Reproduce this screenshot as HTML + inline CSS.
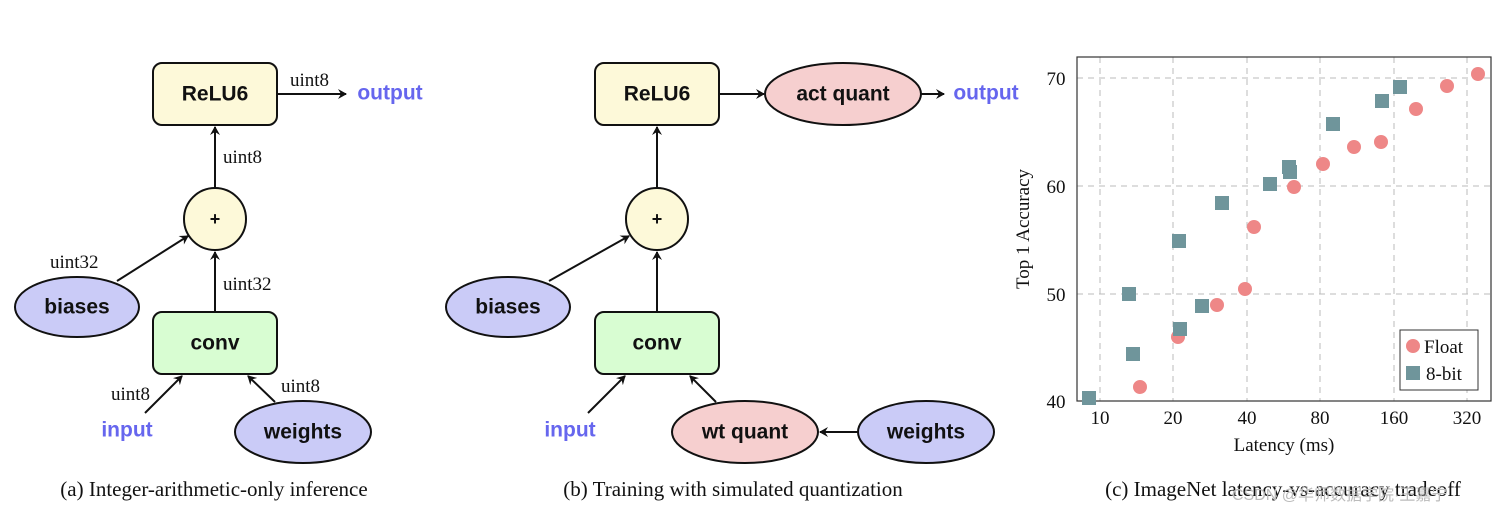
<!DOCTYPE html>
<html><head><meta charset="utf-8"><style>
body{margin:0;background:#fff}
svg{display:block}
.n{font-family:"Liberation Sans",sans-serif;font-weight:bold;font-size:21px;text-anchor:middle;dominant-baseline:central;fill:#111}
.b{font-family:"Liberation Sans",sans-serif;font-weight:bold;font-size:21px;fill:#6666ee;text-anchor:middle;dominant-baseline:central}
.l{font-family:"Liberation Serif",serif;font-size:19px;fill:#111}
.c{font-family:"Liberation Serif",serif;font-size:21px;fill:#111;text-anchor:middle}
.t{font-family:"Liberation Serif",serif;font-size:19px;fill:#111;text-anchor:middle}
line.a{stroke:#111;stroke-width:2;marker-end:url(#ar)}
.box{stroke:#111;stroke-width:2}
</style></head><body>
<svg width="1500" height="515" viewBox="0 0 1500 515" xmlns="http://www.w3.org/2000/svg">
<defs><marker id="ar" markerWidth="10" markerHeight="10" refX="8" refY="5" orient="auto" markerUnits="userSpaceOnUse"><path d="M0,0 L9,5 L0,10 L3,5 Z" fill="#111"/></marker></defs>

<!-- (a) -->
<rect class="box" x="153" y="63" width="124" height="62" rx="9" fill="#fdf9d9"/>
<text class="n" x="215" y="94">ReLU6</text>
<circle class="box" cx="215" cy="219" r="31" fill="#fdf9d9"/>
<text class="n" x="215" y="219" style="font-size:18px">+</text>
<ellipse class="box" cx="77" cy="307" rx="62" ry="30" fill="#cacbf7"/>
<text class="n" x="77" y="307">biases</text>
<rect class="box" x="153" y="312" width="124" height="62" rx="9" fill="#d8fdd2"/>
<text class="n" x="215" y="343">conv</text>
<ellipse class="box" cx="303" cy="432" rx="68" ry="31" fill="#cacbf7"/>
<text class="n" x="303" y="432">weights</text>
<text class="b" x="127" y="430">input</text>
<text class="b" x="390" y="93">output</text>
<line class="a" x1="277" y1="94" x2="346" y2="94"/>
<line class="a" x1="215" y1="188" x2="215" y2="127"/>
<line class="a" x1="215" y1="312" x2="215" y2="252"/>
<line class="a" x1="117" y1="281" x2="188" y2="236"/>
<line class="a" x1="145" y1="413" x2="182" y2="376"/>
<line class="a" x1="275" y1="402" x2="248" y2="376"/>
<text class="l" x="290" y="86">uint8</text>
<text class="l" x="223" y="163">uint8</text>
<text class="l" x="50" y="268">uint32</text>
<text class="l" x="223" y="290">uint32</text>
<text class="l" x="111" y="400">uint8</text>
<text class="l" x="281" y="392">uint8</text>
<text class="c" x="214" y="496">(a) Integer-arithmetic-only inference</text>

<!-- (b) -->
<rect class="box" x="595" y="63" width="124" height="62" rx="9" fill="#fdf9d9"/>
<text class="n" x="657" y="94">ReLU6</text>
<ellipse class="box" cx="843" cy="94" rx="78" ry="31" fill="#f6cfcf"/>
<text class="n" x="843" y="94">act quant</text>
<text class="b" x="986" y="93">output</text>
<circle class="box" cx="657" cy="219" r="31" fill="#fdf9d9"/>
<text class="n" x="657" y="219" style="font-size:18px">+</text>
<ellipse class="box" cx="508" cy="307" rx="62" ry="30" fill="#cacbf7"/>
<text class="n" x="508" y="307">biases</text>
<rect class="box" x="595" y="312" width="124" height="62" rx="9" fill="#d8fdd2"/>
<text class="n" x="657" y="343">conv</text>
<ellipse class="box" cx="745" cy="432" rx="73" ry="31" fill="#f6cfcf"/>
<text class="n" x="745" y="432">wt quant</text>
<ellipse class="box" cx="926" cy="432" rx="68" ry="31" fill="#cacbf7"/>
<text class="n" x="926" y="432">weights</text>
<text class="b" x="570" y="430">input</text>
<line class="a" x1="719" y1="94" x2="764" y2="94"/>
<line class="a" x1="921" y1="94" x2="944" y2="94"/>
<line class="a" x1="657" y1="188" x2="657" y2="127"/>
<line class="a" x1="657" y1="312" x2="657" y2="252"/>
<line class="a" x1="549" y1="281" x2="629" y2="236"/>
<line class="a" x1="588" y1="413" x2="625" y2="376"/>
<line class="a" x1="716" y1="402" x2="690" y2="376"/>
<line class="a" x1="858" y1="432" x2="820" y2="432"/>
<text class="c" x="733" y="496">(b) Training with simulated quantization</text>

<!-- (c) chart -->
<g stroke="#bbb" stroke-width="1" stroke-dasharray="6,5">
<line x1="1100" y1="57" x2="1100" y2="401"/><line x1="1173" y1="57" x2="1173" y2="401"/>
<line x1="1247" y1="57" x2="1247" y2="401"/><line x1="1320" y1="57" x2="1320" y2="401"/>
<line x1="1394" y1="57" x2="1394" y2="401"/><line x1="1467" y1="57" x2="1467" y2="401"/>
<line x1="1077" y1="78" x2="1491" y2="78"/><line x1="1077" y1="186" x2="1491" y2="186"/>
<line x1="1077" y1="294" x2="1491" y2="294"/>
</g>
<rect x="1077" y="57" width="414" height="344" fill="none" stroke="#333" stroke-width="1.2"/>
<g fill="#ee8787">
<circle cx="1478" cy="74" r="7"/><circle cx="1447" cy="86" r="7"/><circle cx="1416" cy="109" r="7"/>
<circle cx="1381" cy="142" r="7"/><circle cx="1354" cy="147" r="7"/><circle cx="1323" cy="164" r="7"/>
<circle cx="1294" cy="187" r="7"/><circle cx="1254" cy="227" r="7"/><circle cx="1245" cy="289" r="7"/>
<circle cx="1217" cy="305" r="7"/><circle cx="1178" cy="337" r="7"/><circle cx="1140" cy="387" r="7"/>
</g>
<g fill="#6f959b">
<rect x="1393" y="80" width="14" height="14"/><rect x="1375" y="94" width="14" height="14"/>
<rect x="1326" y="117" width="14" height="14"/><rect x="1282" y="160" width="14" height="14"/>
<rect x="1283" y="165" width="14" height="14"/><rect x="1263" y="177" width="14" height="14"/>
<rect x="1215" y="196" width="14" height="14"/><rect x="1172" y="234" width="14" height="14"/>
<rect x="1122" y="287" width="14" height="14"/><rect x="1195" y="299" width="14" height="14"/>
<rect x="1173" y="322" width="14" height="14"/><rect x="1126" y="347" width="14" height="14"/>
<rect x="1082" y="391" width="14" height="14"/>
</g>
<rect x="1400" y="330" width="78" height="60" fill="#fff" stroke="#333" stroke-width="1"/>
<circle cx="1413" cy="346" r="7" fill="#ee8787"/>
<rect x="1406" y="366" width="14" height="14" fill="#6f959b"/>
<text class="l" x="1424" y="353">Float</text>
<text class="l" x="1426" y="380">8-bit</text>
<g class="t">
<text x="1100" y="424">10</text><text x="1173" y="424">20</text><text x="1247" y="424">40</text>
<text x="1320" y="424">80</text><text x="1394" y="424">160</text><text x="1467" y="424">320</text>
<text x="1056" y="85">70</text><text x="1056" y="193">60</text><text x="1056" y="301">50</text><text x="1056" y="408">40</text>
<text x="1284" y="451">Latency (ms)</text>
<text transform="translate(1029,229) rotate(-90)">Top 1 Accuracy</text>
</g>
<text class="c" x="1283" y="496">(c) ImageNet latency-vs-accuracy tradeoff</text>
<text x="1232" y="500" style="font-family:'Liberation Sans','Noto Sans CJK SC',sans-serif;font-size:16px;fill:#bbb">CSDN @华师数据学院·王嘉宁</text>
</svg>
</body></html>
